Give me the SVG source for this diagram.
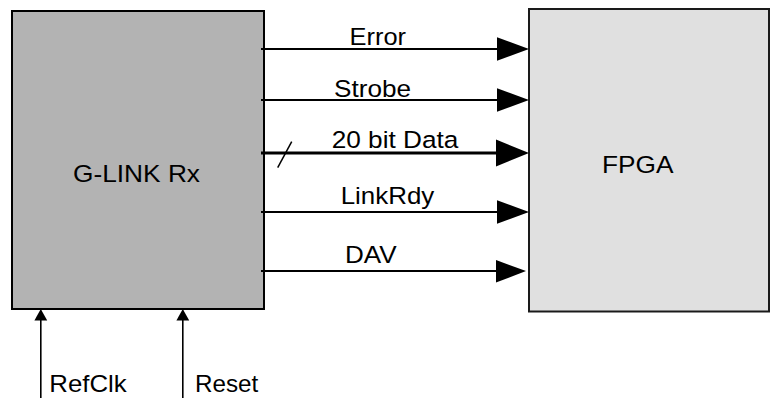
<svg xmlns="http://www.w3.org/2000/svg" width="770" height="398" viewBox="0 0 770 398">
<defs>
<style>
text{font-family:"Liberation Sans",Arial,sans-serif;font-size:24.5px;fill:#000}
.sig{stroke:#000;stroke-width:2;fill:none}
.bus{stroke:#000;stroke-width:3.2;fill:none}
.vin{stroke:#000;stroke-width:1.6;fill:none}
.ah{fill:#000;stroke:none}
</style>
</defs>
<rect width="770" height="398" fill="#fff"/>
<g id="glink">
<rect x="12" y="11" width="252" height="298" fill="#b3b3b3" stroke="#000" stroke-width="2"/>
<text x="73" y="181.5" textLength="127" lengthAdjust="spacingAndGlyphs">G-LINK Rx</text>
</g>
<g id="fpga">
<rect x="529" y="9" width="240" height="302.5" fill="#e0e0e0" stroke="#1a1a1a" stroke-width="2"/>
<text x="602" y="173.3" textLength="71.5" lengthAdjust="spacingAndGlyphs">FPGA</text>
</g>
<g id="connectors">
<line class="sig" x1="261" y1="49" x2="500" y2="49"/>
<polygon class="ah" points="497,37.3 529,49 497,60.7"/>
<text x="349.5" y="45" textLength="56.5" lengthAdjust="spacingAndGlyphs">Error</text>

<line class="sig" x1="261" y1="100" x2="500" y2="100"/>
<polygon class="ah" points="497,88.3 529,100 497,111.7"/>
<text x="334" y="96.5" textLength="77" lengthAdjust="spacingAndGlyphs">Strobe</text>

<line class="bus" x1="261" y1="153" x2="500" y2="153"/>
<polygon class="ah" points="496,139.5 529,153 496,166.5"/>
<line x1="277.7" y1="167.7" x2="291.7" y2="141.7" stroke="#000" stroke-width="1.5"/>
<text x="331.7" y="147.7" textLength="126.6" lengthAdjust="spacingAndGlyphs">20 bit Data</text>

<line class="sig" x1="261" y1="212" x2="500" y2="212"/>
<polygon class="ah" points="497,200.3 529,212 497,223.7"/>
<text x="340.7" y="204" textLength="93.6" lengthAdjust="spacingAndGlyphs">LinkRdy</text>

<line class="sig" x1="261" y1="271" x2="500" y2="271"/>
<polygon class="ah" points="496,260 526,271 496,282.5"/>
<text x="345" y="262.7" textLength="51.7" lengthAdjust="spacingAndGlyphs">DAV</text>

<line class="vin" x1="40.8" y1="398" x2="40.8" y2="318"/>
<polygon class="ah" points="40.8,309 47.2,320.5 34.4,320.5"/>
<text x="49.3" y="391.5" font-size="23" textLength="77.4" lengthAdjust="spacingAndGlyphs">RefClk</text>

<line class="vin" x1="182.8" y1="398" x2="182.8" y2="318"/>
<polygon class="ah" points="182.8,309 189.2,320.5 176.4,320.5"/>
<text x="195" y="391.5" font-size="23" textLength="63.3" lengthAdjust="spacingAndGlyphs">Reset</text>
</g>
</svg>
